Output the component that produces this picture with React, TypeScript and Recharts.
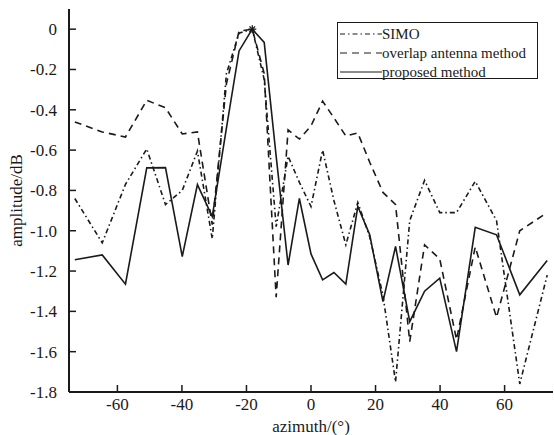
import { LineChart, Line, XAxis, YAxis, Legend, Label } from "recharts";

// azimuth grid (deg) shared by all three curves
const azimuth = [
    -73.2, -64.7, -57.5, -50.9, -45.1, -39.9, -35.2, -30.6, -26.2, -22.3, -18.2,
    -14.5, -10.8, -7.1, -3.6, 0, 3.6, 7.1, 10.8, 14.5, 18.2, 22.3, 26.2, 30.6,
    35.2, 39.9, 45.1, 50.9, 57.5, 64.7, 73.2,
];

const simo = [
    -0.84, -1.06, -0.77, -0.594, -0.87, -0.8, -0.605, -1.04, -0.22, -0.02, 0,
    -0.25, -0.98, -0.63, -0.76, -0.88, -0.6, -0.85, -1.07, -0.86, -1.03, -1.32,
    -1.75, -0.95, -0.75, -0.91, -0.91, -0.755, -0.95, -1.76, -1.22,
];

const overlap = [
    -0.46, -0.51, -0.535, -0.353, -0.39, -0.52, -0.51, -0.97, -0.27, -0.01, 0,
    -0.22, -1.33, -0.5, -0.545, -0.48, -0.357, -0.44, -0.53, -0.515, -0.66, -0.81,
    -0.87, -1.55, -1.07, -1.14, -1.54, -1.08, -1.43, -1.0, -0.91,
];

const proposed = [
    -1.144, -1.12, -1.265, -0.688, -0.687, -1.128, -0.771, -0.93, -0.49, -0.108, 0,
    -0.066, -0.63, -1.17, -0.84, -1.115, -1.244, -1.207, -1.265, -0.879, -1.02,
    -1.352, -1.078, -1.451, -1.3, -1.235, -1.6, -0.983, -1.02, -1.318, -1.148,
];

const xTicks = [-60, -40, -20, 0, 20, 40, 60];
const yTicks = [-1.8, -1.6, -1.4, -1.2, -1.0, -0.8, -0.6, -0.4, -0.2, 0];

const seriesNames = ["SIMO", "overlap antenna method", "proposed method"];

const FONT = '"Liberation Serif", "Times New Roman", serif';
const INK = "#1a1a1a";
const DASH_DOT = "5 3 1.5 3";
const DASHED = "7 5";

const data = azimuth.map((az, i) => ({
    az,
    simo: simo[i],
    overlap: overlap[i],
    proposed: proposed[i],
}));

const peakIndex = proposed.indexOf(Math.max(...proposed));

function BottomTick(props: any) {
    const { x, y, payload } = props;
    return (
        <g>
            <line x1={x} y1={y} x2={x} y2={y - 7} stroke={INK} strokeWidth={1.5} />
            <text x={x} y={y + 18} textAnchor="middle" fontFamily={FONT} fontSize={17} fill={INK}>
                {payload.value}
            </text>
        </g>
    );
}

function LeftTick(props: any) {
    const { x, y, payload } = props;
    const v = Number(payload.value);
    const label = Math.abs(v) < 1e-9 ? "0" : v.toFixed(1);
    return (
        <g>
            <line x1={x} y1={y} x2={x + 7} y2={y} stroke={INK} strokeWidth={1.5} />
            <text x={x - 12} y={y + 6} textAnchor="end" fontFamily={FONT} fontSize={17} fill={INK}>
                {label}
            </text>
        </g>
    );
}

function TopTick(props: any) {
    const { x, y } = props;
    return <line x1={x} y1={y} x2={x} y2={y + 4} stroke={INK} strokeWidth={1} />;
}

function RightTick(props: any) {
    const { x, y } = props;
    return <line x1={x} y1={y} x2={x - 4} y2={y} stroke={INK} strokeWidth={1} />;
}

function StarDot(props: any) {
    const { cx, cy, index } = props;
    if (index !== peakIndex || cx == null) return <g key={`d${index}`} />;
    const r = 4;
    return (
        <g key={`d${index}`} stroke={INK} strokeWidth={1.3}>
            <line x1={cx - r} y1={cy} x2={cx + r} y2={cy} />
            <line x1={cx} y1={cy - r} x2={cx} y2={cy + r} />
            <line x1={cx - r * 0.7} y1={cy - r * 0.7} x2={cx + r * 0.7} y2={cy + r * 0.7} />
            <line x1={cx - r * 0.7} y1={cy + r * 0.7} x2={cx + r * 0.7} y2={cy - r * 0.7} />
        </g>
    );
}

function LegendBox() {
    const dashes = [DASH_DOT, DASHED, undefined];
    return (
        <div
            style={{
                width: 201,
                height: 57,
                border: `1px solid ${INK}`,
                background: "#fff",
                boxSizing: "border-box",
                position: "relative",
            }}
        >
            <svg width={201} height={57} style={{ position: "absolute", left: 0, top: 0 }}>
                {seriesNames.map((name, i) => (
                    <g key={name}>
                        <line
                            x1={2}
                            x2={44}
                            y1={11 + i * 19}
                            y2={11 + i * 19}
                            stroke={INK}
                            strokeWidth={1.2}
                            strokeDasharray={dashes[i]}
                        />
                        <text x={44} y={16 + i * 19} fontFamily={FONT} fontSize={15} fill={INK}>
                            {name}
                        </text>
                    </g>
                ))}
            </svg>
        </div>
    );
}

export default function App() {
    return (
        <div style={{ position: "absolute", left: 0, top: 0, width: 554, height: 435, background: "#fff" }}>
            <LineChart width={554} height={435} data={data} margin={{ top: 9, right: 1, bottom: 0, left: 0 }}>
                <XAxis
                    dataKey="az"
                    type="number"
                    domain={[-75, 75]}
                    ticks={xTicks}
                    allowDataOverflow
                    height={43}
                    tickSize={0}
                    tickMargin={0}
                    tickLine={false}
                    tick={<BottomTick />}
                    axisLine={{ stroke: INK, strokeWidth: 2 }}
                >
                    <Label
                        content={(p: any) => (
                            <text
                                x={p.viewBox.x + p.viewBox.width / 2}
                                y={p.viewBox.y + 40}
                                textAnchor="middle"
                                fontFamily={FONT}
                                fontSize={17}
                                fill={INK}
                            >
                                azimuth/(°)
                            </text>
                        )}
                    />
                </XAxis>
                <XAxis
                    xAxisId="top"
                    dataKey="az"
                    type="number"
                    orientation="top"
                    domain={[-75, 75]}
                    ticks={xTicks}
                    allowDataOverflow
                    height={0}
                    tickSize={0}
                    tickMargin={0}
                    tickLine={false}
                    tick={<TopTick />}
                    axisLine={{ stroke: INK, strokeWidth: 1 }}
                />
                <YAxis
                    type="number"
                    domain={[-1.8, 0.1]}
                    ticks={yTicks}
                    allowDataOverflow
                    width={69}
                    tickSize={0}
                    tickMargin={0}
                    tickLine={false}
                    tick={<LeftTick />}
                    axisLine={{ stroke: INK, strokeWidth: 2 }}
                >
                    <Label
                        content={(p: any) => {
                            const cx = 16;
                            const cy = p.viewBox.y + p.viewBox.height / 2;
                            return (
                                <text
                                    x={cx}
                                    y={cy}
                                    transform={`rotate(-90 ${cx} ${cy})`}
                                    textAnchor="middle"
                                    dominantBaseline="central"
                                    fontFamily={FONT}
                                    fontSize={17}
                                    fill={INK}
                                >
                                    amplitude/dB
                                </text>
                            );
                        }}
                    />
                </YAxis>
                <YAxis
                    yAxisId="right"
                    orientation="right"
                    type="number"
                    domain={[-1.8, 0.1]}
                    ticks={yTicks}
                    allowDataOverflow
                    width={0}
                    tickSize={0}
                    tickMargin={0}
                    tickLine={false}
                    tick={<RightTick />}
                    axisLine={{ stroke: INK, strokeWidth: 1 }}
                />
                <Legend
                    layout="horizontal"
                    verticalAlign="middle"
                    align="center"
                    content={() => <LegendBox />}
                    wrapperStyle={{ position: "absolute", left: 337, top: 22, width: 201, height: 57 }}
                />
                <Line
                    type="linear"
                    dataKey="simo"
                    name={seriesNames[0]}
                    stroke={INK}
                    strokeWidth={1.6}
                    strokeDasharray={DASH_DOT}
                    dot={false}
                    isAnimationActive={false}
                />
                <Line
                    type="linear"
                    dataKey="overlap"
                    name={seriesNames[1]}
                    stroke={INK}
                    strokeWidth={1.6}
                    strokeDasharray={DASHED}
                    dot={false}
                    isAnimationActive={false}
                />
                <Line
                    type="linear"
                    dataKey="proposed"
                    name={seriesNames[2]}
                    stroke={INK}
                    strokeWidth={1.6}
                    dot={<StarDot />}
                    isAnimationActive={false}
                />
            </LineChart>
        </div>
    );
}
